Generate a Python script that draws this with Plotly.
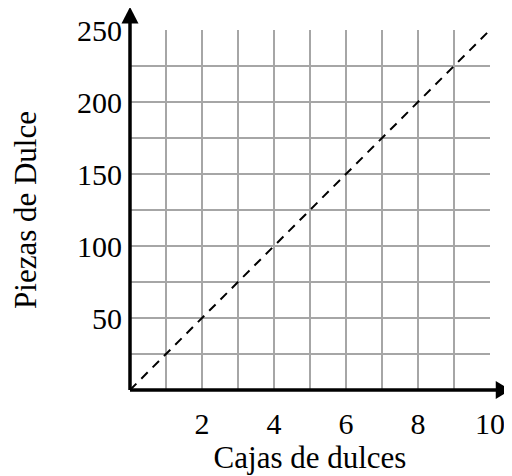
import plotly.graph_objects as go

# Data
boxes = [0, 10]
pieces = [0, 250]

x_tickvals = list(range(0, 11))
x_ticktext = ["", "", "2", "", "4", "", "6", "", "8", "", "10"]
y_tickvals = list(range(0, 251, 25))
y_ticktext = ["", "", "50", "", "100", "", "150", "", "200", "", "250"]

FONT = "Liberation Serif"
GRID = "#a6a6a6"

fig = go.Figure()
fig.add_trace(go.Scatter(
    x=boxes, y=pieces, mode="lines",
    line=dict(color="black", width=2, dash="9px,7px"),
    hoverinfo="skip", showlegend=False,
))

# Axis lines with arrowheads (decoration, paper coords)
shapes = [
    dict(type="line", xref="paper", yref="paper", x0=0, y0=0, x1=1.02, y1=0,
         line=dict(color="black", width=3.5), layer="above"),
    dict(type="path", xref="paper", yref="paper",
         path="M 1.058 0 L 1.016 0.025 L 1.016 -0.025 Z",
         fillcolor="black", line=dict(color="black", width=0), layer="above"),
    dict(type="line", xref="paper", yref="paper", x0=0, y0=0, x1=0, y1=1.022,
         line=dict(color="black", width=3.5), layer="above"),
    dict(type="path", xref="paper", yref="paper",
         path="M 0 1.064 L -0.0236 1.018 L 0.0236 1.018 Z",
         fillcolor="black", line=dict(color="black", width=0), layer="above"),
]

fig.update_layout(
    width=512, height=476,
    margin=dict(l=122, r=30, t=22, b=94, pad=0, autoexpand=False),
    paper_bgcolor="white", plot_bgcolor="white",
    font=dict(family=FONT, color="black", size=30),
    shapes=shapes,
    showlegend=False,
)
fig.update_xaxes(
    range=[0, 10], tickmode="array", tickvals=x_tickvals, ticktext=x_ticktext,
    showgrid=True, gridcolor=GRID, gridwidth=2, zeroline=False, showline=False,
    ticks="outside", ticklen=7, tickcolor="rgba(0,0,0,0)", automargin=False,
    tickfont=dict(family=FONT, size=30, color="black"),
    title=dict(text="Cajas de dulces", font=dict(family=FONT, size=31, color="black"), standoff=6),
    fixedrange=True,
)
fig.update_yaxes(
    range=[0, 250], tickmode="array", tickvals=y_tickvals, ticktext=y_ticktext,
    showgrid=True, gridcolor=GRID, gridwidth=2, zeroline=False, showline=False,
    ticks="outside", ticklen=1, tickcolor="rgba(0,0,0,0)", automargin=False,
    tickfont=dict(family=FONT, size=30, color="black"),
    title=dict(text="Piezas de Dulce", font=dict(family=FONT, size=31, color="black"), standoff=38),
    fixedrange=True,
)

fig.write_html("out.html", config={"displayModeBar": False})
